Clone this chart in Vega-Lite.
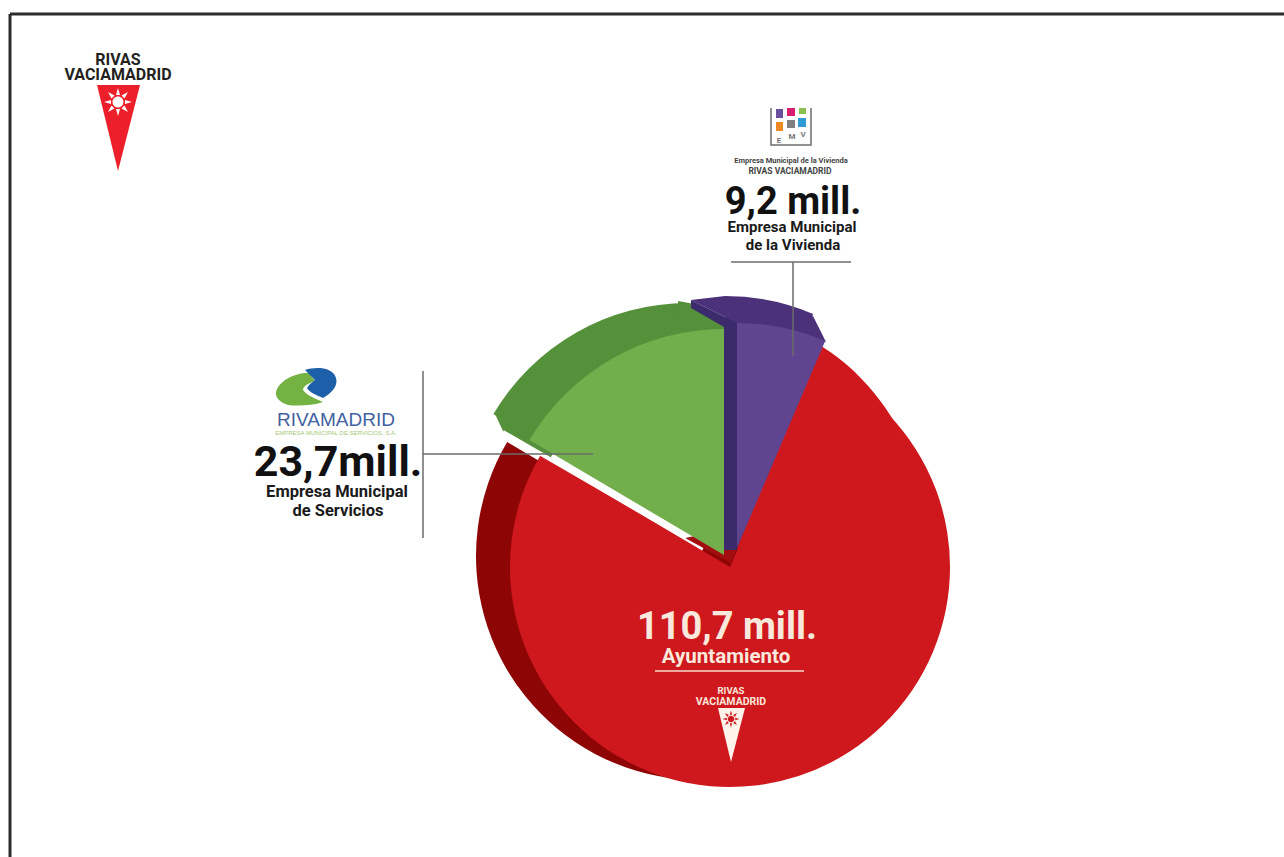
{"$schema":"https://vega.github.io/schema/vega-lite/v6.json","width":1284,"height":857,"padding":0,"autosize":"none","background":"white","view":{"stroke":null},
"config":{"text":{"baseline":"alphabetic","align":"center","font":"Roboto","fontWeight":"bold"}},
"datasets":{"slices":[{"entidad":"Ayuntamiento","millones":110.7,"importe":"110,7 mill."},{"entidad":"Empresa Municipal de la Vivienda","millones":9.2,"importe":"9,2 mill."},{"entidad":"Rivamadrid","millones":23.7,"importe":"23,7mill."}],"uno":[{"k":1}]},
"layer":[
{"data":{"name":"uno"},"mark":{"type":"rule","color":"#2f2b2c","strokeWidth":3},"encoding":{"x":{"value":10},"x2":{"value":1284},"y":{"value":14},"y2":{"value":14}}},
{"data":{"name":"uno"},"mark":{"type":"rule","color":"#2f2b2c","strokeWidth":3},"encoding":{"x":{"value":10},"x2":{"value":10},"y":{"value":14},"y2":{"value":857}}},

{"data":{"name":"slices"},"transform":[{"stack":"millones","as":["a","b"],"sort":[{"field":"entidad","order":"descending"}]},{"filter":"datum.entidad==='Ayuntamiento'"}],"mark":{"type":"arc","outerRadius":224,"fill":"#8e0505"},"encoding":{"x":{"value":700},"y":{"value":556},"theta":{"field":"a","type":"quantitative","scale":{"domain":[0,143.6],"range":[-1.0369,5.2463]}},"theta2":{"field":"b"}}},
{"data":{"name":"slices"},"transform":[{"stack":"millones","as":["a","b"],"sort":[{"field":"entidad","order":"descending"}]},{"filter":"datum.entidad==='Ayuntamiento'"}],"mark":{"type":"arc","outerRadius":220,"fill":"#cf181e"},"encoding":{"x":{"value":730},"y":{"value":567},"theta":{"field":"a","type":"quantitative","scale":{"domain":[0,143.6],"range":[-1.0369,5.2463]}},"theta2":{"field":"b"}}},
{"data":{"name":"uno"},"mark":{"type":"point","filled":true,"opacity":1,"strokeWidth":0,"fill":"#cf181e","shape":"M737,550 L812,341 C845,358 875,388 899,429 L800,480 Z","size":4},"encoding":{"x":{"value":0},"y":{"value":0}}},
{"data":{"name":"uno"},"mark":{"type":"point","filled":true,"opacity":1,"strokeWidth":0,"fill":"#a30d10","shape":"M685,538 L731,563 L737,548 L700,535 Z","size":4},"encoding":{"x":{"value":0},"y":{"value":0}}},

{"data":{"name":"slices"},"transform":[{"stack":"millones","as":["a","b"],"sort":[{"field":"entidad","order":"descending"}]},{"filter":"datum.entidad==='Rivamadrid'"}],"mark":{"type":"arc","outerRadius":226,"fill":"#55903a"},"encoding":{"x":{"value":688},"y":{"value":529},"theta":{"field":"a","type":"quantitative","scale":{"domain":[0,143.6],"range":[-1.0369,5.2463]}},"theta2":{"field":"b"}}},
{"data":{"name":"uno"},"mark":{"type":"point","filled":true,"opacity":1,"strokeWidth":0,"fill":"#55903a","shape":"M678,301 L700,305 L724,324 L724,345 L680,345 Z M495,414 L503,431 L550,459 L570,420 Z","size":4},"encoding":{"x":{"value":0},"y":{"value":0}}},

{"data":{"name":"slices"},"transform":[{"stack":"millones","as":["a","b"],"sort":[{"field":"entidad","order":"descending"}]},{"filter":"datum.entidad==='Empresa Municipal de la Vivienda'"}],"mark":{"type":"arc","outerRadius":225,"fill":"#4a3179"},"encoding":{"x":{"value":725},"y":{"value":521},"theta":{"field":"a","type":"quantitative","scale":{"domain":[0,143.6],"range":[-1.0369,5.2463]}},"theta2":{"field":"b"}}},
{"data":{"name":"uno"},"mark":{"type":"point","filled":true,"opacity":1,"strokeWidth":0,"fill":"#4a3179","shape":"M691,300 L725,296 L737,323 Z M780,318 L813,316 L826,342 L790,330 Z","size":4},"encoding":{"x":{"value":0},"y":{"value":0}}},
{"data":{"name":"uno"},"mark":{"type":"point","filled":true,"opacity":1,"strokeWidth":0,"fill":"#3b2a6c","shape":"M691,300 L737,323 L737,550 L724,550 L724,327 L691,308 Z","size":4},"encoding":{"x":{"value":0},"y":{"value":0}}},

{"data":{"name":"slices"},"transform":[{"stack":"millones","as":["a","b"],"sort":[{"field":"entidad","order":"descending"}]},{"filter":"datum.entidad==='Empresa Municipal de la Vivienda'"}],"mark":{"type":"arc","outerRadius":225,"fill":"#5f4490"},"encoding":{"x":{"value":737},"y":{"value":548},"theta":{"field":"a","type":"quantitative","scale":{"domain":[0,143.6],"range":[-1.0369,5.2463]}},"theta2":{"field":"b"}}},
{"data":{"name":"slices"},"transform":[{"stack":"millones","as":["a","b"],"sort":[{"field":"entidad","order":"descending"}]},{"filter":"datum.entidad==='Rivamadrid'"}],"mark":{"type":"arc","outerRadius":226,"fill":"#72ae4c"},"encoding":{"x":{"value":724},"y":{"value":555},"theta":{"field":"a","type":"quantitative","scale":{"domain":[0,143.6],"range":[-1.0369,5.2463]}},"theta2":{"field":"b"}}},
{"data":{"name":"uno"},"mark":{"type":"rule","color":"white","strokeWidth":4},"encoding":{"x":{"value":503},"y":{"value":432},"x2":{"value":686},"y2":{"value":538}}},

{"data":{"name":"uno"},"mark":{"type":"rule","color":"#6b6b6b","strokeWidth":1.5},"encoding":{"x":{"value":731},"x2":{"value":851},"y":{"value":262},"y2":{"value":262}}},
{"data":{"name":"uno"},"mark":{"type":"rule","color":"#6b6b6b","strokeWidth":1.5},"encoding":{"x":{"value":793},"x2":{"value":793},"y":{"value":262},"y2":{"value":356}}},
{"data":{"name":"uno"},"mark":{"type":"rule","color":"#6b6b6b","strokeWidth":1.5},"encoding":{"x":{"value":423},"x2":{"value":423},"y":{"value":371},"y2":{"value":538}}},
{"data":{"name":"uno"},"mark":{"type":"rule","color":"#6b6b6b","strokeWidth":1.5},"encoding":{"x":{"value":423},"x2":{"value":593},"y":{"value":454},"y2":{"value":454}}},
{"data":{"name":"uno"},"mark":{"type":"rule","color":"#f6dccb","strokeWidth":1.5},"encoding":{"x":{"value":655},"x2":{"value":804},"y":{"value":671},"y2":{"value":671}}},

{"data":{"name":"uno"},"mark":{"type":"point","filled":true,"opacity":1,"strokeWidth":0,"fill":"#ed1f2a","shape":"M97,85 L140,85 L118,171 Z","size":4},"encoding":{"x":{"value":0},"y":{"value":0}}},
{"data":{"name":"uno"},"mark":{"type":"point","filled":true,"opacity":1,"strokeWidth":0,"fill":"white","shape":"M-2,-7 L0,-14 L2,-7 Z M-2,7 L0,14 L2,7 Z M7,-2 L14,0 L7,2 Z M-7,-2 L-14,0 L-7,2 Z M3.5,-6.5 L10,-10 L6.5,-3.5 Z M-3.5,-6.5 L-10,-10 L-6.5,-3.5 Z M3.5,6.5 L10,10 L6.5,3.5 Z M-3.5,6.5 L-10,10 L-6.5,3.5 Z M-5.5,0 A5.5,5.5 0 1,1 5.5,0 A5.5,5.5 0 1,1 -5.5,0 Z","size":4},"encoding":{"x":{"value":118},"y":{"value":102}}},
{"data":{"values":[{"t":"RIVAS"}]},"mark":{"type":"text","fontSize":16,"fill":"#231f20"},"encoding":{"text":{"field":"t"},"x":{"value":118},"y":{"value":65}}},
{"data":{"values":[{"t":"VACIAMADRID"}]},"mark":{"type":"text","fontSize":16,"fill":"#231f20"},"encoding":{"text":{"field":"t"},"x":{"value":118},"y":{"value":80}}},

{"data":{"name":"uno"},"mark":{"type":"point","filled":true,"opacity":1,"strokeWidth":0,"fill":"#fdf3ea","shape":"M718,708 L745,708 L731,762 Z","size":4},"encoding":{"x":{"value":0},"y":{"value":0}}},
{"data":{"name":"uno"},"mark":{"type":"point","filled":true,"opacity":1,"strokeWidth":0,"fill":"#cf181e","shape":"M-2,-7 L0,-14 L2,-7 Z M-2,7 L0,14 L2,7 Z M7,-2 L14,0 L7,2 Z M-7,-2 L-14,0 L-7,2 Z M3.5,-6.5 L10,-10 L6.5,-3.5 Z M-3.5,-6.5 L-10,-10 L-6.5,-3.5 Z M3.5,6.5 L10,10 L6.5,3.5 Z M-3.5,6.5 L-10,10 L-6.5,3.5 Z M-5.5,0 A5.5,5.5 0 1,1 5.5,0 A5.5,5.5 0 1,1 -5.5,0 Z","size":1.44},"encoding":{"x":{"value":731},"y":{"value":719}}},
{"data":{"values":[{"t":"RIVAS"}]},"mark":{"type":"text","fontSize":9.5,"fill":"#f9e6d8"},"encoding":{"text":{"field":"t"},"x":{"value":731},"y":{"value":694}}},
{"data":{"values":[{"t":"VACIAMADRID"}]},"mark":{"type":"text","fontSize":10.5,"fill":"#f9e6d8"},"encoding":{"text":{"field":"t"},"x":{"value":731},"y":{"value":705}}},

{"data":{"name":"slices"},"transform":[{"filter":"datum.entidad==='Ayuntamiento'"}],"mark":{"type":"text","fontSize":38,"fill":"#f9e9dc"},"encoding":{"text":{"field":"importe"},"x":{"value":727},"y":{"value":639}}},
{"data":{"name":"slices"},"transform":[{"filter":"datum.entidad==='Ayuntamiento'"}],"mark":{"type":"text","fontSize":20.5,"fill":"#f9e9dc"},"encoding":{"text":{"field":"entidad"},"x":{"value":726},"y":{"value":663}}},
{"data":{"name":"slices"},"transform":[{"filter":"datum.entidad==='Empresa Municipal de la Vivienda'"}],"mark":{"type":"text","fontSize":38,"fill":"#111111"},"encoding":{"text":{"field":"importe"},"x":{"value":793},"y":{"value":214}}},
{"data":{"values":[{"t":"Empresa Municipal"}]},"mark":{"type":"text","fontSize":15,"fill":"#1a1a1a"},"encoding":{"text":{"field":"t"},"x":{"value":792},"y":{"value":232}}},
{"data":{"values":[{"t":"de la Vivienda"}]},"mark":{"type":"text","fontSize":15,"fill":"#1a1a1a"},"encoding":{"text":{"field":"t"},"x":{"value":793},"y":{"value":250}}},
{"data":{"values":[{"t":"Empresa Municipal de la Vivienda"}]},"mark":{"type":"text","fontSize":7.5,"fill":"#444444"},"encoding":{"text":{"field":"t"},"x":{"value":791},"y":{"value":163}}},
{"data":{"values":[{"t":"RIVAS VACIAMADRID"}]},"mark":{"type":"text","fontSize":8.5,"fill":"#444444"},"encoding":{"text":{"field":"t"},"x":{"value":790},"y":{"value":174}}},

{"data":{"name":"uno"},"mark":{"type":"point","filled":false,"opacity":1,"strokeWidth":1.5,"stroke":"#6d6d6d","shape":"M771,108 L771,145 L811,145 L811,108","size":4},"encoding":{"x":{"value":0},"y":{"value":0}}},
{"data":{"name":"uno"},"mark":{"type":"point","filled":true,"opacity":1,"strokeWidth":0,"fill":"#6a4ea0","shape":"M776,109 H783 V118 H776 Z","size":4},"encoding":{"x":{"value":0},"y":{"value":0}}},
{"data":{"name":"uno"},"mark":{"type":"point","filled":true,"opacity":1,"strokeWidth":0,"fill":"#d81e6e","shape":"M787,108 H795 V116 H787 Z","size":4},"encoding":{"x":{"value":0},"y":{"value":0}}},
{"data":{"name":"uno"},"mark":{"type":"point","filled":true,"opacity":1,"strokeWidth":0,"fill":"#8cc152","shape":"M799,108 H806 V114 H799 Z","size":4},"encoding":{"x":{"value":0},"y":{"value":0}}},
{"data":{"name":"uno"},"mark":{"type":"point","filled":true,"opacity":1,"strokeWidth":0,"fill":"#f08a24","shape":"M776,122 H783 V131 H776 Z","size":4},"encoding":{"x":{"value":0},"y":{"value":0}}},
{"data":{"name":"uno"},"mark":{"type":"point","filled":true,"opacity":1,"strokeWidth":0,"fill":"#7f8081","shape":"M787,120 H795 V128 H787 Z","size":4},"encoding":{"x":{"value":0},"y":{"value":0}}},
{"data":{"name":"uno"},"mark":{"type":"point","filled":true,"opacity":1,"strokeWidth":0,"fill":"#2e9bd6","shape":"M798,118 H806 V127 H798 Z","size":4},"encoding":{"x":{"value":0},"y":{"value":0}}},
{"data":{"values":[{"t":"E"}]},"mark":{"type":"text","fontSize":8,"fill":"#777777"},"encoding":{"text":{"field":"t"},"x":{"value":779},"y":{"value":143}}},
{"data":{"values":[{"t":"M"}]},"mark":{"type":"text","fontSize":8,"fill":"#777777"},"encoding":{"text":{"field":"t"},"x":{"value":792},"y":{"value":139}}},
{"data":{"values":[{"t":"V"}]},"mark":{"type":"text","fontSize":8,"fill":"#777777"},"encoding":{"text":{"field":"t"},"x":{"value":803},"y":{"value":137}}},

{"data":{"name":"uno"},"mark":{"type":"point","filled":true,"opacity":1,"strokeWidth":0,"fill":"#74b343","shape":"M276,392 C279,380 297,372 309,373 L315,381 C309,383 303,386 303,390 C306,395 316,399 323,402 C312,406 296,406 288,405 C281,403 275,398 276,392 Z","size":4},"encoding":{"x":{"value":0},"y":{"value":0}}},
{"data":{"name":"uno"},"mark":{"type":"point","filled":true,"opacity":1,"strokeWidth":0,"fill":"#1d5fa8","shape":"M305,370 C315,367 328,367 334,374 C339,381 337,390 323,398 C316,395 309,392 307,388 C309,384 313,382 315,380 Z","size":4},"encoding":{"x":{"value":0},"y":{"value":0}}},
{"data":{"values":[{"t":"RIVAMADRID"}]},"mark":{"type":"text","font":"Liberation Sans","fontWeight":"normal","fontSize":19,"fill":"#41619f"},"encoding":{"text":{"field":"t"},"x":{"value":336},"y":{"value":426}}},
{"data":{"values":[{"t":"EMPRESA MUNICIPAL DE SERVICIOS, S.A."}]},"mark":{"type":"text","font":"Liberation Sans","fontWeight":"normal","fontSize":6,"fill":"#a8c878"},"encoding":{"text":{"field":"t"},"x":{"value":336},"y":{"value":435}}},
{"data":{"name":"slices"},"transform":[{"filter":"datum.entidad==='Rivamadrid'"}],"mark":{"type":"text","fontSize":43,"fill":"#111111"},"encoding":{"text":{"field":"importe"},"x":{"value":338},"y":{"value":476}}},
{"data":{"values":[{"t":"Empresa Municipal"}]},"mark":{"type":"text","fontSize":16.5,"fill":"#1a1a1a"},"encoding":{"text":{"field":"t"},"x":{"value":337},"y":{"value":497}}},
{"data":{"values":[{"t":"de Servicios"}]},"mark":{"type":"text","fontSize":16.5,"fill":"#1a1a1a"},"encoding":{"text":{"field":"t"},"x":{"value":338},"y":{"value":516}}}
]}
